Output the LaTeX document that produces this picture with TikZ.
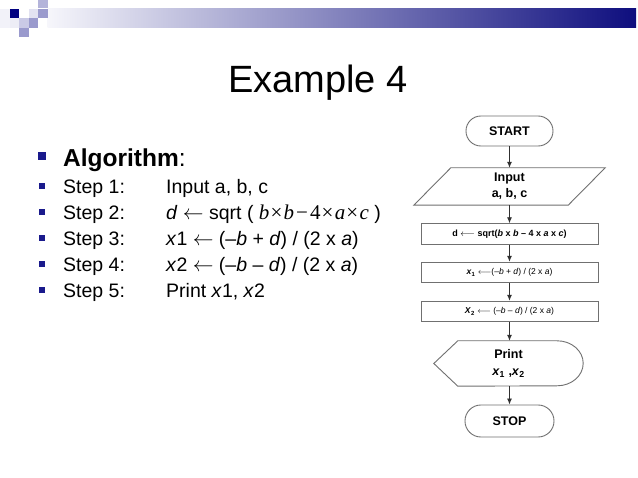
\documentclass[tikz,border=0pt]{standalone}
\usepackage{fontspec}
\setmainfont{Liberation Sans}
\newfontfamily\serifm{Liberation Serif}
\usetikzlibrary{arrows.meta,calc}
\definecolor{navy}{HTML}{000080}
\definecolor{bulletc}{HTML}{1A1A8C}
\definecolor{sqA}{HTML}{B4B4DA}
\definecolor{sqB}{HTML}{E2E2F1}
\definecolor{sqC}{HTML}{9A9ACD}
\definecolor{sqD}{HTML}{CACAE6}
\definecolor{barL}{HTML}{F6F6FB}
\definecolor{barR}{HTML}{0E0E7E}
\definecolor{fcgray}{HTML}{707070}
\definecolor{arrgray}{HTML}{303030}
\newcommand{\larr}{\ensuremath{\leftarrow}}
\newcommand{\llarr}{\ensuremath{\longleftarrow}}
\tikzset{
  fc/.style={draw=fcgray, line width=0.9pt},
  term/.style={fc, rounded corners=14.9pt, minimum width=87pt, minimum height=30pt, inner sep=0pt,
    font=\bfseries\fontsize{12.5}{15}\selectfont},
  procbox/.style={fc, minimum width=177pt, minimum height=20.5pt, inner sep=0pt},
  ghost/.style={inner sep=0pt, align=center},
  arr/.style={draw=arrgray, line width=0.9pt, -{Latex[length=6pt,width=5pt]}},
  txt/.style={anchor=base west, inner sep=0pt, font=\fontsize{19.5}{22}\selectfont},
  stepbullet/.style={fill=bulletc},
}
\begin{document}
\begin{tikzpicture}[x=1pt,y=-1pt]
\useasboundingbox[fill=white] (0,0) rectangle (638,478);
% header decoration
\shade[left color=barL, right color=barR] (47.5,9) rectangle (636,28);
\fill[navy!5] (0,9) rectangle (9.5,28);
\fill[navy!7] (9.5,18.5) rectangle (19,28);
\fill[navy] (9.5,9) rectangle (19,18.5);
\fill[sqA] (38,-0.5) rectangle (47.5,8.5);
\fill[sqB] (28.5,9) rectangle (38,18.5);
\fill[sqC] (38,9) rectangle (47.5,18.5);
\fill[sqD] (19,18.5) rectangle (28.5,28);
\fill[sqC] (28.5,18.5) rectangle (38,28);
\fill[sqC] (19,28) rectangle (28.5,37.5);
% title
\node[anchor=base, inner sep=0pt, font=\fontsize{38}{44}\selectfont] (title) at (318,93) {Example 4};
% bullets
\fill[stepbullet] (38,152.5) rectangle (45.5,160);
\node[txt, font=\fontsize{24.5}{28}\selectfont] (alg) at (63,167) {\textbf{Algorithm}:};
\foreach \yy in {186,212,238,264,290} {\fill[stepbullet] (39,\yy-3) rectangle (45,\yy+3);}
\node[txt] (s1) at (63,194) {Step 1:};
\node[txt] (s2) at (63,220) {Step 2:};
\node[txt] (s3) at (63,246) {Step 3:};
\node[txt] (s4) at (63,272) {Step 4:};
\node[txt] (s5) at (63,298) {Step 5:};
\node[txt] (t1) at (166,194) {Input a, b, c};
\node[txt] (t2) at (166,220) {\textit{d} \larr\ sqrt ( {\serifm\fontsize{21}{22}\selectfont\textit{b}\hspace{1.2pt}×\hspace{1.2pt}\textit{b}\hspace{2pt}−\hspace{2pt}4\hspace{1.2pt}×\hspace{1.2pt}\textit{a}\hspace{1.2pt}×\hspace{1.2pt}\textit{c}} )};
\node[txt] (t3) at (166,246) {\textit{x}1 \larr\ (–\textit{b} + \textit{d}) / (2 x \textit{a})};
\node[txt] (t4) at (166,272) {\textit{x}2 \larr\ (–\textit{b} – \textit{d}) / (2 x \textit{a})};
\node[txt] (t5) at (166,298) {Print \textit{x}1, \textit{x}2};
% flowchart
\node[term] (start) at (509.5,131) {START};
\node[ghost, minimum width=191pt, minimum height=37pt, font=\bfseries\fontsize{12.5}{16}\selectfont] (input) at (509.5,186.5) {Input\\a, b, c};
\draw[fc] ([xshift=37pt]input.north west) -- (input.north east) -- ([xshift=-37pt]input.south east) -- (input.south west) -- cycle;
\node[procbox, font=\bfseries\fontsize{9}{11}\selectfont] (dbox) at (509.5,234) {d \llarr\ sqrt(\textit{b} x \textit{b} – 4 x \textit{a} x \textit{c})};
\node[procbox, font=\fontsize{8.5}{10}\selectfont] (x1box) at (509.5,272.5) {\textbf{\textit{x}\textsubscript{1}} \llarr(–\textit{b} + \textit{d}) / (2 x \textit{a})};
\node[procbox, font=\fontsize{8.5}{10}\selectfont] (x2box) at (509.5,311.5) {\textbf{\textit{X}\textsubscript{2}} \llarr\ (–\textit{b} – \textit{d}) / (2 x \textit{a})};
\node[ghost, minimum width=149pt, minimum height=45pt, font=\bfseries\fontsize{12.5}{17}\selectfont] (print) at (508.5,363.5) {Print\\\textit{x}\textsubscript{1} ,\textit{x}\textsubscript{2}};
\draw[fc] (print.west) -- ([xshift=24pt]print.north west) -- ([xshift=-26pt]print.north east)
  arc[start angle=90, end angle=-90, x radius=26pt, y radius=22.5pt] -- ([xshift=24pt]print.south west) -- cycle;
\node[term, minimum width=89pt, minimum height=32pt, rounded corners=15.9pt] (stop) at (509.5,421) {STOP};
\draw[arr] (start) -- (input);
\draw[arr] (input) -- (dbox);
\draw[arr] (dbox) -- (x1box);
\draw[arr] (x1box) -- (x2box);
\draw[arr] (x2box.south) -- (x2box.south |- print.north);
\draw[arr] (print.south -| stop.north) -- (stop);
\end{tikzpicture}
\end{document}
